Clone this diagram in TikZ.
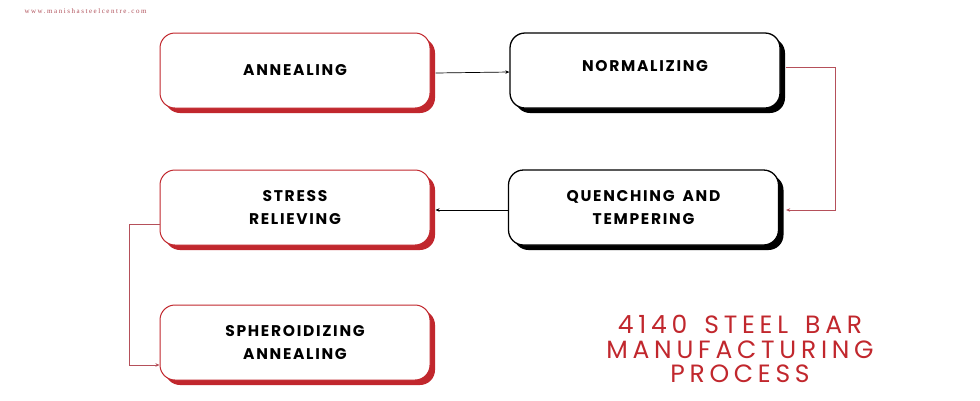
\documentclass[tikz,border=0pt]{standalone}
\usepackage{fontspec}
\usetikzlibrary{arrows.meta,shadows}
\newfontfamily\boxfont[LetterSpace=11,WordSpace=1.6]{Poppins}
\newfontfamily\titlefont[LetterSpace=19,WordSpace=1.5]{Poppins}
\newfontfamily\webfont[LetterSpace=22]{Liberation Serif}
\definecolor{bred}{HTML}{C1272D}
\definecolor{lred}{HTML}{B5505A}
\definecolor{wred}{HTML}{B0505A}
\begin{document}
\begin{tikzpicture}[x=1pt,y=-1pt,
  stepbox/.style={rounded corners=15pt,minimum width=270pt,minimum height=75pt,fill=white,
    font=\boxfont\bfseries\fontsize{15.5}{22.5}\selectfont,align=center,inner sep=0pt},
  redbox/.style={stepbox,draw=bred,line width=1pt,
    drop shadow={shadow xshift=5pt,shadow yshift=-5pt,fill=bred,opacity=1}},
  blackbox/.style={stepbox,draw=black,line width=1.3pt,
    drop shadow={shadow xshift=5pt,shadow yshift=-5pt,fill=black,opacity=1}},
  blk/.style={draw=black,line width=0.7pt,-{Stealth[length=4pt,width=3.5pt]}},
  rd/.style={draw=lred,line width=0.8pt,-{Stealth[length=4pt,width=3.5pt]}}]
\useasboundingbox[fill=white] (0,0) rectangle (980,400);
\node[anchor=west,text=wred,font=\webfont\fontsize{7}{8}\selectfont] (web) at (21,11) {www.manishasteelcentre.com};
\node[redbox] (anneal) at (295,70.5) {\raisebox{2pt}{ANNEALING}};
\node[blackbox] (norm) at (645,70.5) {\raisebox{9pt}{NORMALIZING}};
\node[blackbox] (quench) at (643.5,207.5) {QUENCHING AND\\TEMPERING};
\node[redbox] (stress) at (295,207.5) {STRESS\\RELIEVING};
\node[redbox] (spher) at (295,342.5) {SPHEROIDIZING\\ANNEALING};
\node[text=bred,align=center,font=\titlefont\fontsize{25}{24.5}\selectfont] (title) at (740,349) {4140 STEEL BAR\\MANUFACTURING\\PROCESS};
\draw[blk] ([xshift=5pt,yshift=-2.5pt]anneal.east) -- ([yshift=-1.5pt]norm.west);
\draw[rd] ([xshift=5pt,yshift=3.5pt]norm.east) -- ++(50,0) |- ([xshift=7pt,yshift=-2.5pt]quench.east);
\draw[blk] ([yshift=-2.5pt]quench.west) -- ([xshift=5pt,yshift=-2.5pt]stress.east);
\draw[rd] ([yshift=-16.5pt]stress.west) -- ++(-30,0) |- ([yshift=-22.5pt]spher.west);
\end{tikzpicture}
\end{document}
